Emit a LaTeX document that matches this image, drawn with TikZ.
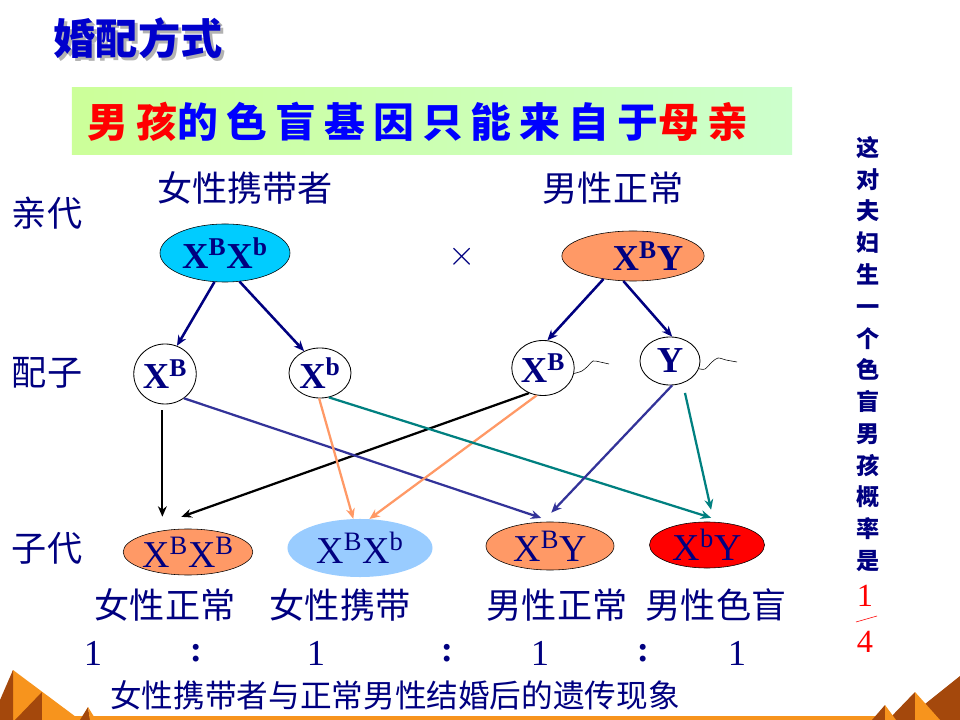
\documentclass[tikz,border=0pt]{standalone}
\usepackage{fontspec}
\setmainfont{Liberation Serif}
\newfontfamily\cjk{Noto Sans CJK SC}
\newfontfamily\cjkancho[LetterSpace=20]{Noto Sans CJK SC}
\usetikzlibrary{arrows.meta, shapes.geometric, calc}
\definecolor{tinta}{HTML}{000080}
\definecolor{azulvivo}{HTML}{0000FF}
\definecolor{rojo}{HTML}{FF0000}
\definecolor{salmon}{HTML}{FF9966}
\definecolor{cielo}{HTML}{00CCFF}
\definecolor{celeste}{HTML}{99CCFF}
\definecolor{morado}{HTML}{333399}
\definecolor{verdeazul}{HTML}{008080}
\definecolor{naranja}{HTML}{F7941D}
\definecolor{marron}{HTML}{A4480C}
\definecolor{lima}{HTML}{CCFF99}
\definecolor{menta}{HTML}{CCFFCC}
\tikzset{
  padre/.style={ellipse, draw=black, thin, inner sep=0pt, text=tinta,
                font=\bfseries\fontsize{26}{28}\selectfont},
  gameto/.style={ellipse, draw=black, semithick, inner sep=0pt, text=tinta,
                font=\bfseries\fontsize{26}{28}\selectfont},
  hijo/.style={ellipse, draw=black, thin, inner sep=0pt, text=tinta,
                font=\fontsize{27}{28}\selectfont},
  rotulo/.style={text=tinta, inner sep=0pt, font=\cjk\fontsize{25}{28}\selectfont},
  razon/.style={text=tinta, inner sep=0pt, font=\fontsize{26}{28}\selectfont},
  flecha/.style={-{Stealth[length=2.6mm, width=2.2mm]}},
  flechap/.style={flecha, line width=1.8pt, tinta},
  flechan/.style={flecha, line width=1.6pt, black},
  flecham/.style={flecha, line width=1.6pt, morado},
  flechao/.style={flecha, line width=1.6pt, salmon},
  flechav/.style={flecha, line width=1.6pt, verdeazul},
}

\begin{document}
\begin{tikzpicture}[x=0.025cm, y=-0.025cm]
  \useasboundingbox[fill=white] (0,0) rectangle (960,720);

  % titulo y cabecera
  \node[text=azulvivo!80!black, font=\cjk\bfseries\fontsize{30}{32}\selectfont] (titulo) at (138,40)
    {\makebox[0pt][l]{\hspace{2.2pt}\raisebox{-2.2pt}{\textcolor{gray!60}{婚配方式}}}婚配方式};
  \node[left color=lima, right color=menta, minimum width=18cm, minimum height=1.675cm] (cabecera) at (432,121) {};
  \node[font=\cjkancho\bfseries\fontsize{29}{32}\selectfont, text=azulvivo] (lema) at (418,122)
    {\textcolor{rojo}{男孩}的色盲基因只能来自于\textcolor{rojo}{母亲}};

  % generaciones
  \node[rotulo] (qin) at (47,213) {亲代};
  \node[rotulo] (pei) at (47,373) {配子};
  \node[rotulo] (zi) at (47,548) {子代};
  \node[rotulo] (madre) at (245,188) {女性携带者};
  \node[rotulo] (padrel) at (613,188) {男性正常};

  \node[padre, fill=cielo, minimum width=3.25cm, minimum height=1.45cm] (p1) at (225,253) {X\textsuperscript{B}X\textsuperscript{b}};
  \node[padre, fill=salmon, minimum width=3.2cm, minimum height=1.25cm] (p2) at (633,256) {\hspace*{0.75cm}X\textsuperscript{B}Y};
  \node[text=tinta, font=\fontsize{28}{30}\selectfont] (cruz) at (462,257) {$\times$};

  \node[gameto, minimum width=1.375cm, minimum height=1.5cm] (g1) at (165,374) {X\textsuperscript{B}};
  \node[gameto, minimum width=1.55cm, minimum height=1.25cm] (g2) at (320,373) {X\textsuperscript{b}};
  \node[gameto, minimum width=1.55cm, minimum height=1.375cm] (g3) at (543,368) {X\textsuperscript{B}};
  \node[gameto, minimum width=1.5cm, minimum height=1.2cm] (g4) at (670,361) {Y};
  \draw[thin] plot[smooth] coordinates {(g3.350) (582,371) (588,366) (593,361) (600,362) (609,364)};
  \draw[thin] plot[smooth] coordinates {(g4.345) (705,369) (712,362) (718,358) (726,360) (737,362)};

  \node[hijo, fill=salmon, minimum width=3.1cm, minimum height=1.15cm] (o1) at (188,552) {X\textsuperscript{B}X\textsuperscript{B}};
  \node[hijo, draw=none, fill=celeste, minimum width=3.625cm, minimum height=1.45cm] (o2) at (360,548) {X\textsuperscript{B}X\textsuperscript{b}};
  \node[hijo, fill=salmon, minimum width=3.2cm, minimum height=1.2cm] (o3) at (550,546) {X\textsuperscript{B}Y};
  \node[hijo, fill=rojo, minimum width=2.875cm, minimum height=1.15cm] (o4) at (707,545) {X\textsuperscript{b}Y};

  % flechas
  \draw[flechap] (p1.250) -- (g1.67);
  \draw[flechap] (p1.297) -- (g2.126);
  \draw[flechap] (p2.218) -- (g3.81);
  \draw[flechap] (p2.249) -- (g4.85);

  \draw[flechan, shorten <=0.15cm, shorten >=0.3cm] (g1.265) -- (g1.265 |- o1.north);
  \draw[flechan] (g3.241) -- ([yshift=0.3cm]o1.106);
  \draw[flecham] (g1.308) -- ([yshift=0.1cm]o3.110);
  \draw[flechao] (g2.268) -- (o2.103);
  \draw[flechao] (g3.257) -- (o2.72);
  \draw[flechav] (g2.290) -- ([yshift=0.1cm]o4.80);
  \draw[flecham] (g4.275) -- ([yshift=0.225cm]o3.87);
  \draw[flechav, shorten <=0.25cm] (g4.300) -- ([yshift=0.3cm]o4.80);

  % fenotipos y proporcion
  \node[rotulo] (f1) at (165,605) {女性正常};
  \node[rotulo] (f2) at (340,605) {女性携带};
  \node[rotulo] (f3) at (557,605) {男性正常};
  \node[rotulo] (f4) at (716,605) {男性色盲};
  \foreach \x/\t [count=\i] in {93/1, 196/\textbf{:}, 316/1, 447/\textbf{:}, 540/1, 643/\textbf{:}, 737/1}
    \node[razon] (r\i) at (\x,653) {\t};
  \node[rotulo, font=\cjk\fontsize{22.5}{26}\selectfont] (pie) at (395,695) {女性携带者与正常男性结婚后的遗传现象};

  % columna derecha
  \node[text=tinta, align=center, font=\cjk\bfseries\fontsize{16.5}{22.6}\selectfont] (columna) at (868,354)
    {这\\对\\夫\\妇\\生\\一\\个\\色\\盲\\男\\孩\\概\\率\\是};
  \node[text=rojo, font=\fontsize{23}{24}\selectfont] (num) at (865,596) {1};
  \node[text=rojo, font=\fontsize{23}{24}\selectfont] (den) at (865,642) {4};
  \draw[rojo] (856,622) -- (877,616);

  % esquinas
  \fill[naranja] (0,716) rectangle (960,720);
  \fill[naranja] (0,720) -- (13,670) -- (80,720) -- cycle;
  \fill[marron] (0,700) -- (13,670) -- (13,720) -- (0,720) -- cycle;
  \fill[marron] (15,720) -- (42,692) -- (42,720) -- cycle;
  \fill[naranja] (42,692) -- (65,720) -- (42,720) -- cycle;
  \fill[marron] (80,720) -- (88,707) -- (90,720) -- cycle;
  \fill[naranja] (88,707) -- (96,720) -- (90,720) -- cycle;
  \fill[marron] (960,676) -- (905,720) -- (960,720) -- cycle;
  \fill[marron] (888,720) -- (915,692) -- (915,720) -- cycle;
  \fill[naranja] (915,692) -- (940,720) -- (915,720) -- cycle;
  \fill[marron] (872,720) -- (885,705) -- (885,720) -- cycle;
  \fill[naranja] (885,705) -- (896,720) -- (885,720) -- cycle;
\end{tikzpicture}
\end{document}
